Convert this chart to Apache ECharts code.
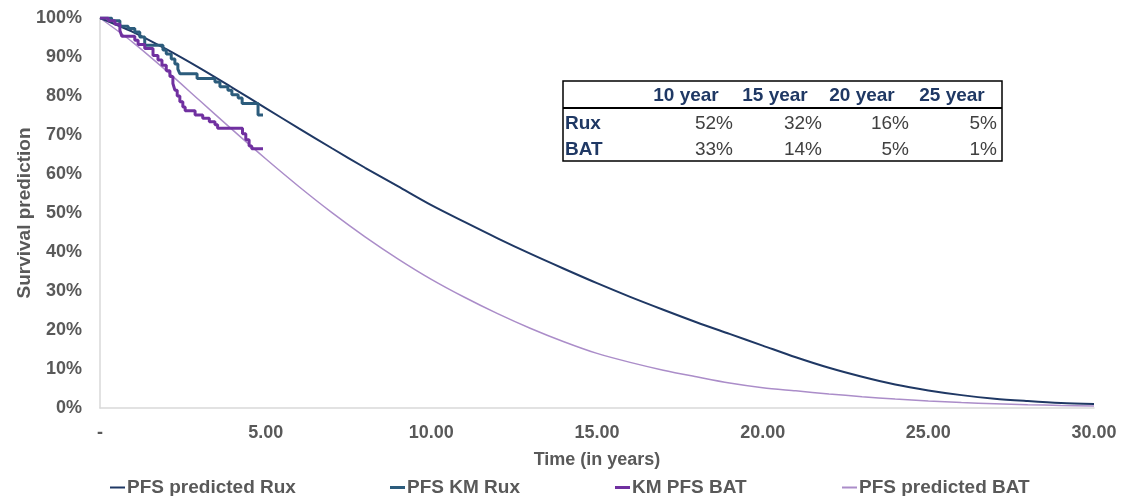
<!DOCTYPE html>
<html>
<head>
<meta charset="utf-8">
<script src="https://cdn.jsdelivr.net/npm/echarts@6/dist/echarts.min.js"></script>
<style>
  html, body { margin: 0; padding: 0; background: #fff; }
  #chart { width: 1122px; height: 496px; }
</style>
</head>
<body>
<div id="chart"></div>
<script>
// ---- data ----
const years = [0,1,2,3,4,5,6,7,8,9,10,11,12,13,14,15,16,17,18,19,20,21,22,23,24,25,26,27,28,29,30];
const predRux = [100,96.4,92.0,87.2,82.1,76.9,71.7,66.6,61.6,56.8,52.0,47.7,43.5,39.5,35.7,32.0,28.5,25.2,22.0,19.0,16.0,13.0,10.3,8.0,6.0,4.5,3.3,2.4,1.8,1.3,1.0];
const predBat = [100,93.7,86.5,78.9,71.3,63.9,56.8,50.1,43.9,38.2,33.0,28.4,24.2,20.4,17.0,14.0,11.7,9.7,8.0,6.4,5.2,4.4,3.6,2.9,2.3,1.8,1.4,1.1,0.85,0.65,0.5];

const kmRuxT = [0,0.35,0.6,0.85,1.05,1.2,1.35,1.9,2.0,2.15,2.26,2.35,2.41,2.93,3.47,3.62,3.86,3.98,4.17,4.29,4.77,4.92];
const kmRuxS = [100,99.3,97.9,97.3,96.4,95.1,93.0,91.8,90.8,89.5,88.2,86.9,85.7,84.5,83.6,82.4,81.5,80.3,79.5,78.1,75.1,75.1];

const kmBatT = [0,0.25,0.45,0.6,0.66,1.05,1.15,1.35,1.6,1.75,1.87,2.0,2.11,2.2,2.26,2.33,2.41,2.5,2.57,2.87,3.1,3.3,3.47,3.55,4.3,4.4,4.5,4.58,4.92];
const kmBatS = [100,99.3,98.4,96.8,95.3,94.3,93.2,92.2,90.4,89.2,87.9,86.5,85.0,83.2,81.5,80.0,78.5,77.2,76.2,75.1,74.3,73.4,72.6,71.7,70.3,68.8,67.2,66.5,66.5];

const seriesNames = ['PFS predicted Rux','PFS KM Rux','KM PFS BAT','PFS predicted BAT'];
const tableHeaders = ['10 year','15 year','20 year','25 year'];
const tableRowLabels = ['Rux','BAT'];
const tableRux = ['52%','32%','16%','5%'];
const tableBat = ['33%','14%','5%','1%'];

// ---- styling / layout ----
const colors = ['#1f3864', '#2c5c7c', '#7030a0', '#ab8dc9'];
const widths = [2, 3, 3, 1.5];
const gray = '#595959';
const font = 'Liberation Sans, Arial, sans-serif';

const pair = (xs, ys) => xs.map((x, i) => [x, ys[i]]);

const chart = echarts.init(document.getElementById('chart'), null, { renderer: 'canvas' });

// table graphic
const colCenters = [686, 775, 862, 952];
const colRights = [733, 822, 909, 997];
const tableGraphic = [
  { type: 'rect', shape: { x: 563, y: 81, width: 439, height: 80 },
    style: { fill: '#fff', stroke: '#000', lineWidth: 1.5 }, z: 100 },
  { type: 'line', shape: { x1: 563, y1: 108, x2: 1002, y2: 108 },
    style: { stroke: '#000', lineWidth: 2 }, z: 101 }
];
tableHeaders.forEach((h, i) => tableGraphic.push({
  type: 'text', x: colCenters[i], y: 96, z: 102,
  style: { text: h, font: 'bold 19px ' + font, fill: '#1f3864', align: 'center', verticalAlign: 'middle' }
}));
tableRowLabels.forEach((r, j) => tableGraphic.push({
  type: 'text', x: 565, y: 124 + j * 26, z: 102,
  style: { text: r, font: 'bold 19px ' + font, fill: '#1f3864', align: 'left', verticalAlign: 'middle' }
}));
[tableRux, tableBat].forEach((row, j) => row.forEach((v, i) => tableGraphic.push({
  type: 'text', x: colRights[i], y: 124 + j * 26, z: 102,
  style: { text: v, font: '19px ' + font, fill: '#404040', align: 'right', verticalAlign: 'middle' }
})));

const legendLefts = [105, 385, 610, 837];
const legends = seriesNames.map((n, i) => ({
  data: [n], left: legendLefts[i], top: 473,
  icon: 'rect', itemWidth: 15, itemHeight: Math.max(2, widths[i]), itemGap: 0,
  textStyle: { color: gray, fontSize: 19, fontWeight: 'bold', fontFamily: font, padding: [0, 0, 0, -3] },
  selectedMode: false
}));

chart.setOption({
  animation: false,
  backgroundColor: '#fff',
  grid: { left: 100, right: 28, top: 18, bottom: 88, containLabel: false },
  legend: legends,
  xAxis: {
    type: 'value', min: 0, max: 30, interval: 5,
    name: 'Time (in years)', nameLocation: 'middle', nameGap: 43, nameMoveOverlap: false,
    nameTextStyle: { color: gray, fontSize: 18, fontWeight: 'bold', fontFamily: font },
    axisLine: { show: true, lineStyle: { color: '#d9d9d9', width: 1.5 } },
    axisTick: { show: false },
    splitLine: { show: false },
    axisLabel: {
      color: gray, fontSize: 18, fontWeight: 'bold', fontFamily: font, margin: 16,
      formatter: v => v === 0 ? '-' : v.toFixed(2)
    }
  },
  yAxis: {
    type: 'value', min: 0, max: 100, interval: 10,
    name: 'Survival prediction', nameLocation: 'middle', nameGap: 66, nameRotate: 90, nameMoveOverlap: false,
    nameTextStyle: { color: gray, fontSize: 19, fontWeight: 'bold', fontFamily: font },
    axisLine: { show: true, lineStyle: { color: '#d9d9d9', width: 1.5 } },
    axisTick: { show: false },
    splitLine: { show: false },
    axisLabel: { color: gray, fontSize: 18, fontWeight: 'bold', fontFamily: font, margin: 18,
      formatter: v => v + '%' }
  },
  series: [
    { name: seriesNames[0], type: 'line', data: pair(years, predRux), smooth: 0.3,
      showSymbol: false, lineStyle: { color: colors[0], width: widths[0] }, itemStyle: { color: colors[0] }, z: 3 },
    { name: seriesNames[1], type: 'line', data: pair(kmRuxT, kmRuxS), step: 'end',
      showSymbol: false, lineStyle: { color: colors[1], width: widths[1] }, itemStyle: { color: colors[1] }, z: 4 },
    { name: seriesNames[2], type: 'line', data: pair(kmBatT, kmBatS), step: 'end',
      showSymbol: false, lineStyle: { color: colors[2], width: widths[2] }, itemStyle: { color: colors[2] }, z: 4 },
    { name: seriesNames[3], type: 'line', data: pair(years, predBat), smooth: 0.3,
      showSymbol: false, lineStyle: { color: colors[3], width: widths[3] }, itemStyle: { color: colors[3] }, z: 2 }
  ],
  graphic: tableGraphic
});
</script>
</body>
</html>
